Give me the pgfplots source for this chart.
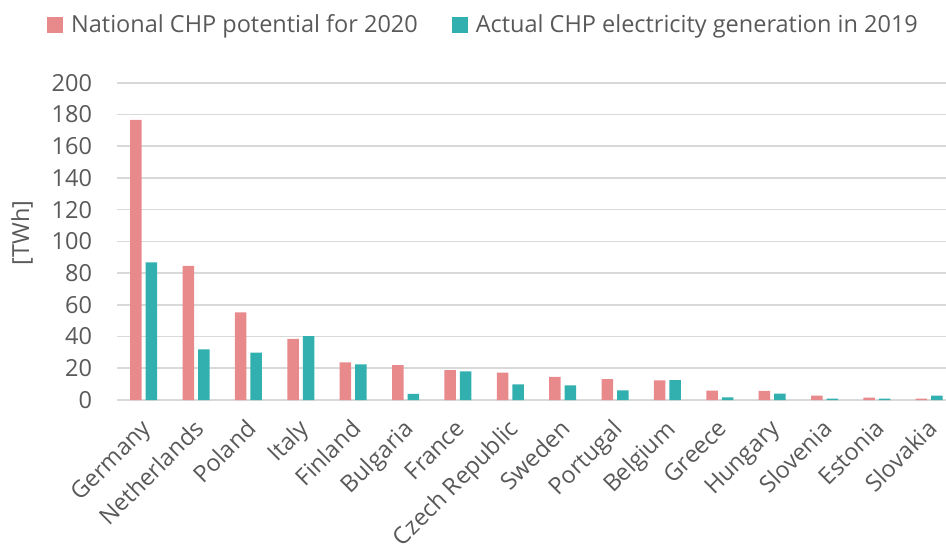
\documentclass[border=0pt]{standalone}
\usepackage{pgfplots}
\pgfplotsset{compat=1.18}
\usepackage{fontspec}
\setmainfont{Open Sans}
\definecolor{pinkbar}{RGB}{232,137,140}
\definecolor{tealbar}{RGB}{50,176,175}
\definecolor{txt}{RGB}{89,89,89}
\definecolor{gridc}{RGB}{217,217,217}
\begin{document}
\begin{tikzpicture}
\begin{axis}[
  at={(0pt,0pt)}, anchor=south west,
  scale only axis,
  width=828.5pt, height=317.3pt,
  xmin=-0.5, xmax=15.32,
  ymin=0, ymax=200,
  ytick={0,20,...,200},
  xtick={0,...,15},
  xticklabels={Germany,Netherlands,Poland,Italy,Finland,Bulgaria,France,Czech Republic,Sweden,Portugal,Belgium,Greece,Hungary,Slovenia,Estonia,Slovakia},
  ymajorgrids,
  major grid style={line width=1.6pt, color=gridc},
  axis line style={draw=none},
  major tick length=0pt,
  tick style={draw=none},
  font=\fontsize{23.5}{28}\selectfont,
  every tick label/.append style={text=txt},
  /pgf/number format/assume math mode=true,
  yticklabel style={xshift=-22pt},
  xticklabel style={rotate=45, anchor=north east, inner sep=2pt, xshift=-13pt, yshift=-8pt},
  ylabel={[TWh]},
  ylabel style={text=txt, at={(axis description cs:-0.1153,0.526)}, anchor=center},
  ybar, bar width=11.5pt,
  legend columns=2,
  legend style={draw=none, fill=none, at={(0.4418,1.0)}, anchor=center, yshift=58.2pt, text=txt,
    /tikz/every even column/.append style={column sep=32pt}, font=\fontsize{23.5}{28}\selectfont},
  legend image code/.code={\fill[#1] (0pt,-8pt) rectangle (16pt,8pt); \path (22pt,0pt);},
  clip=false,
]
\addplot[fill=pinkbar, draw=none, bar shift=-7.75pt] coordinates {
(0,176.5) (1,84.6) (2,55.2) (3,38.6) (4,23.7) (5,22.0) (6,18.9) (7,17.2) (8,14.5) (9,13.2) (10,12.3) (11,5.9) (12,5.7) (13,2.7) (14,1.5) (15,0.8)};
\addplot[fill=tealbar, draw=none, bar shift=7.75pt] coordinates {
(0,86.8) (1,31.9) (2,29.8) (3,40.3) (4,22.5) (5,3.8) (6,18.1) (7,9.9) (8,9.2) (9,6.1) (10,12.6) (11,1.7) (12,4.0) (13,0.8) (14,0.8) (15,2.7)};
\legend{National CHP potential for 2020, Actual CHP electricity generation in 2019}
\end{axis}
\pgfresetboundingbox
\path[use as bounding box] (-117.5pt,-149pt) rectangle (828.5pt,400pt);
\end{tikzpicture}
\end{document}
